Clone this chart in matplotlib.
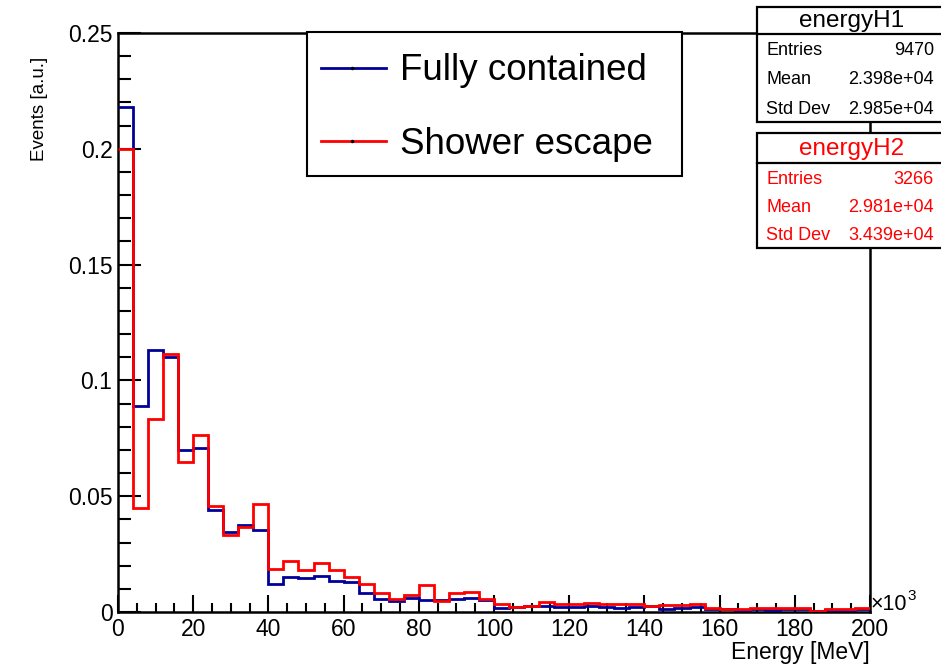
import numpy as np
import matplotlib
matplotlib.use("Agg")
import matplotlib.pyplot as plt
from matplotlib.patches import Rectangle
from matplotlib.lines import Line2D

plt.rcParams['font.family'] = ['Liberation Sans', 'DejaVu Sans']

# Energy bins (in units of 10^3 MeV), 50 bins of width 4
bin_edges = np.arange(0, 201, 4)

# Normalised event fractions per bin
fully_contained = [
    0.218, 0.089, 0.113, 0.110, 0.0698, 0.0708, 0.0442, 0.0347, 0.0374, 0.0352,
    0.0121, 0.0150, 0.0147, 0.0154, 0.0135, 0.0128, 0.0082, 0.0054, 0.0046, 0.0060,
    0.0050, 0.0050, 0.0055, 0.0060, 0.0053, 0.0016, 0.0020, 0.0025, 0.0028, 0.0022,
    0.0022, 0.0025, 0.0020, 0.0018, 0.0022, 0.0025, 0.0015, 0.0018, 0.0022, 0.0015,
    0.0012, 0.0010, 0.0012, 0.0010, 0.0013, 0.0012, 0.0005, 0.0010, 0.0009, 0.0013,
]
shower_escape = [
    0.200, 0.0449, 0.0833, 0.1116, 0.0646, 0.0763, 0.0457, 0.0333, 0.0369, 0.0468,
    0.0185, 0.0220, 0.0183, 0.0212, 0.0183, 0.0151, 0.0119, 0.0082, 0.0056, 0.0073,
    0.0116, 0.0046, 0.0081, 0.0088, 0.0056, 0.0035, 0.0020, 0.0027, 0.0043, 0.0035,
    0.0035, 0.0041, 0.0036, 0.0033, 0.0033, 0.0028, 0.0030, 0.0032, 0.0033, 0.0017,
    0.0014, 0.0012, 0.0016, 0.0017, 0.0019, 0.0019, 0.0006, 0.0013, 0.0013, 0.0019,
]

series_labels = ["Fully contained", "Shower escape"]
series_colors = ["#000099", "#ff0000"]

x_ticks = [0, 20, 40, 60, 80, 100, 120, 140, 160, 180, 200]
y_ticks = [0, 0.05, 0.1, 0.15, 0.2, 0.25]
y_tick_labels = ["0", "0.05", "0.1", "0.15", "0.2", "0.25"]

stats_h1 = [("Entries", "9470"), ("Mean", "2.398e+04"), ("Std Dev", "2.985e+04")]
stats_h2 = [("Entries", "3266"), ("Mean", "2.981e+04"), ("Std Dev", "3.439e+04")]

W, H = 941, 665
fig = plt.figure(figsize=(W / 100, H / 100), dpi=100)
fig.patch.set_facecolor("white")


def fx(px):
    return px / W


def fy(py):
    return 1 - py / H


ax = fig.add_axes([fx(118), fy(612), fx(870) - fx(118), fy(33) - fy(612)])

ax.stairs(fully_contained, bin_edges, color=series_colors[0], lw=2.0, baseline=None, zorder=3)
ax.stairs(shower_escape, bin_edges, color=series_colors[1], lw=2.0, baseline=None, zorder=4)

ax.set_xlim(0, 200)
ax.set_ylim(0, 0.25)
ax.set_xticks(x_ticks)
ax.set_xticks(np.arange(0, 201, 5), minor=True)
ax.set_yticks(y_ticks)
ax.set_yticklabels(y_tick_labels)
ax.set_yticks(np.arange(0, 0.2501, 0.01), minor=True)

ax.tick_params(axis="x", which="major", direction="in", length=12, width=1.5,
               labelsize=16.5, pad=4, top=False)
ax.tick_params(axis="x", which="minor", direction="in", length=6.5, width=1.5, top=False)
ax.tick_params(axis="y", which="major", direction="in", length=16.5, width=1.5,
               labelsize=16.5, pad=4, right=False)
ax.tick_params(axis="y", which="minor", direction="in", length=9, width=1.5, right=False)
for s in ax.spines.values():
    s.set_linewidth(1.8)

# Axis titles
fig.text(fx(870), fy(652), "Energy [MeV]", ha="right", va="center", fontsize=16.5)
fig.text(fx(40), fy(57), "Events [a.u.]", ha="center", va="top", rotation=90, fontsize=13.5)
fig.text(fx(871), fy(605), "\u00d710", ha="left", va="center", fontsize=15.5)
fig.text(fx(907), fy(596), "3", ha="left", va="center", fontsize=11)

# Legend box
fig.add_artist(Rectangle((fx(307), fy(176)), fx(682) - fx(307), fy(32) - fy(176),
                         transform=fig.transFigure, facecolor="white",
                         edgecolor="black", lw=1.5, zorder=5))
for label, color, ly in zip(series_labels, series_colors, [68, 141]):
    fig.add_artist(Line2D([fx(321), fx(386)], [fy(ly), fy(ly)], color=color, lw=2.0,
                          transform=fig.transFigure, zorder=6))
    fig.add_artist(Line2D([fx(352)], [fy(ly)], marker="o", markersize=1.5, color="black",
                          transform=fig.transFigure, zorder=7))
    fig.text(fx(400), fy(ly + 3), label, ha="left", va="center", fontsize=26.5, zorder=7)


def stats_box(top, sep, bottom, title, rows, color):
    fig.add_artist(Rectangle((fx(757), fy(bottom)), fx(947) - fx(757), fy(top) - fy(bottom),
                             transform=fig.transFigure, facecolor="white",
                             edgecolor="black", lw=1.6, zorder=5))
    fig.add_artist(Line2D([fx(757), fx(947)], [fy(sep), fy(sep)], color="black", lw=1.6,
                          transform=fig.transFigure, zorder=6))
    fig.text(fx(852), fy((top + sep) / 2 + 1), title, ha="center", va="center",
             fontsize=17.5, color=color, zorder=7)
    step = (bottom - sep) / 3
    for i, (name, val) in enumerate(rows):
        yy = sep + step * (i + 0.5) + 2
        fig.text(fx(766), fy(yy), name, ha="left", va="center", fontsize=13,
                 color=color, zorder=7)
        fig.text(fx(934), fy(yy), val, ha="right", va="center", fontsize=13,
                 color=color, zorder=7)


stats_box(7, 34, 122, "energyH1", stats_h1, "black")
stats_box(133, 163, 248, "energyH2", stats_h2, "#ff0000")

fig.savefig("out.png", dpi=100)
